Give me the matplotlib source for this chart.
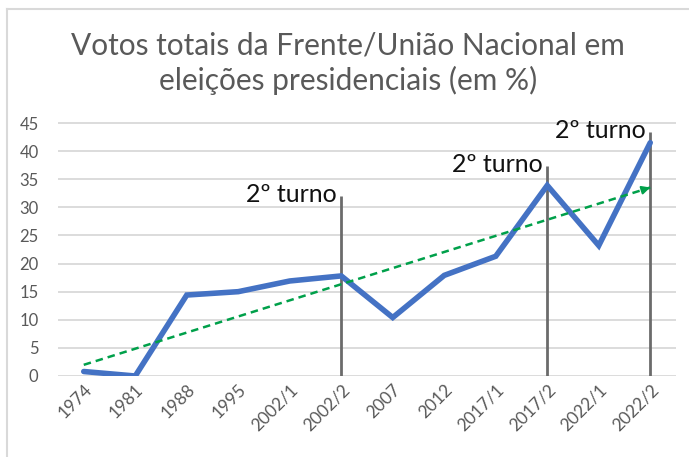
import matplotlib.pyplot as plt
from matplotlib.lines import Line2D
import numpy as np

plt.rcParams['font.family'] = ['Lato', 'DejaVu Sans']

# data
elections = ["1974", "1981", "1988", "1995", "2002/1", "2002/2", "2007",
             "2012", "2017/1", "2017/2", "2022/1", "2022/2"]
votes = [0.8, 0.0, 14.4, 15.0, 16.9, 17.8, 10.4, 17.9, 21.3, 33.9, 23.2, 41.5]

# second-round markers: category index and top of the drop line
runoff_idx = [5, 9, 11]
runoff_top = [32.0, 37.3, 43.4]
runoff_label = "2º turno"

x = np.arange(len(elections))

fig = plt.figure(figsize=(6.89, 4.57), dpi=100)
ax = fig.add_axes([58 / 689, 1 - 376 / 457, 618 / 689, (376 - 123) / 457 * 50 / 45])

# chart frame (left and top edges visible in the crop)
fig.add_artist(Line2D([7 / 689, 7 / 689], [0, 1 - 9 / 457], transform=fig.transFigure,
                      color='#d9d9d9', lw=1.5))
fig.add_artist(Line2D([7 / 689, 1], [1 - 9 / 457, 1 - 9 / 457], transform=fig.transFigure,
                      color='#d9d9d9', lw=1.5))

ax.set_xlim(-0.5, len(elections) - 0.5)
ax.set_ylim(0, 50)
ax.set_yticks(range(0, 50, 5))
ax.yaxis.grid(True, color='#d9d9d9', lw=1.3)
ax.set_axisbelow(True)
for s in ['top', 'right', 'left', 'bottom']:
    ax.spines[s].set_visible(False)
ax.tick_params(axis='y', length=0, labelsize=12, labelcolor='#595959', pad=14)
ax.tick_params(axis='x', length=0, labelsize=12.5, labelcolor='#595959', pad=4)
ax.set_xticks(x)
ax.set_xticklabels(elections, rotation=45, ha='right', rotation_mode='anchor')

# drop lines for second rounds
ax.vlines(runoff_idx, 0, runoff_top, color='#6b6b6b', lw=2, zorder=2)
for i, top in zip(runoff_idx, runoff_top):
    ax.text(i - 0.08, top - 1.1, runoff_label, ha='right', va='baseline',
            fontsize=18, color='#111111')

ax.plot(x, votes, color='#4472c4', lw=4, solid_capstyle='round',
        solid_joinstyle='miter', zorder=3)

# linear trendline
k, b = np.polyfit(x, votes, 1)
tx = np.array([x[0], x[-1]])
ty = k * tx + b
ax.plot(tx, ty, color='#00a04a', lw=1.8, ls=(0, (3, 2)), zorder=4)
ax.annotate('', xy=(tx[1], ty[1]), xytext=(tx[1] - 0.15, ty[1] - 0.15 * k),
            arrowprops=dict(arrowstyle='-|>', color='#00a04a', lw=1.5,
                            mutation_scale=12, shrinkA=0, shrinkB=0), zorder=4)

fig.text(0.505, 1 - 45 / 457, "Votos totais da Frente/União Nacional em",
         ha='center', va='center', fontsize=21.5, color='#595959')
fig.text(0.505, 1 - 80 / 457, "eleições presidenciais (em %)",
         ha='center', va='center', fontsize=21.5, color='#595959')

fig.savefig('out.png', dpi=100)
